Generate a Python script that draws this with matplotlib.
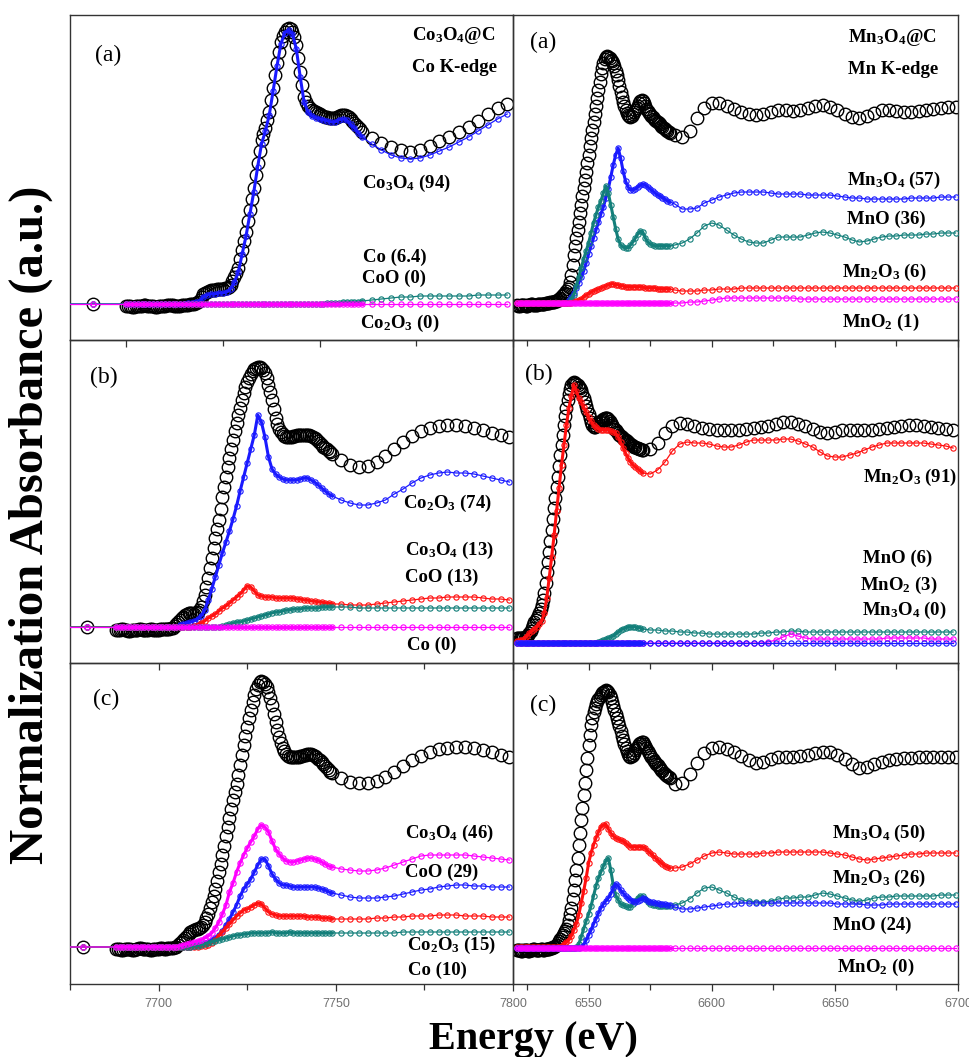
import sys
import numpy as np
import matplotlib
matplotlib.use("Agg")
import matplotlib.pyplot as plt
from matplotlib.ticker import MultipleLocator, NullLocator

plt.rcParams["font.family"] = ["Liberation Serif", "DejaVu Serif"]
plt.rcParams["mathtext.fontset"] = "custom"
plt.rcParams["mathtext.rm"] = "Liberation Serif:bold"
plt.rcParams["mathtext.it"] = "Liberation Serif:bold"
plt.rcParams["mathtext.bf"] = "Liberation Serif:bold"

# ---------------- energy grids (eV) ----------------
# fitted components
E_co_a = np.concatenate([[7670.0, 7691.4], np.arange(7700, 7762, 1.0), np.arange(7763.5, 7800, 2.5)])
E_co_b = np.concatenate([[7660.0, 7679.8], np.arange(7688, 7750, 1.0), np.arange(7751.5, 7800, 2.5)])
E_co_c = np.concatenate([[7660.0, 7678.7], np.arange(7688, 7750, 1.0), np.arange(7751.5, 7800, 2.5)])
E_mn_a = np.concatenate([np.arange(6521, 6584, 1.0), np.arange(6585, 6700, 3.0)])
E_mn_b = np.concatenate([np.arange(6521, 6573, 1.0), np.arange(6575, 6700, 3.0)])
E_mn_c = np.concatenate([np.arange(6521, 6584, 1.0), np.arange(6585, 6700, 3.0)])
# measured spectra (finer XANES step)
Ex_co_a = np.concatenate([[7670.0, 7691.4], np.arange(7700, 7761.25, 0.5), np.arange(7763.5, 7800, 2.5)])
Ex_co_b = np.concatenate([[7660.0, 7679.8], np.arange(7688, 7749.25, 0.5), np.arange(7751.5, 7800, 2.5)])
Ex_co_c = np.concatenate([[7660.0, 7678.7], np.arange(7688, 7749.25, 0.5), np.arange(7751.5, 7800, 2.5)])
Ex_mn_a = np.concatenate([np.arange(6521, 6583.25, 0.5), np.arange(6585, 6700, 3.0)])
Ex_mn_b = np.concatenate([np.arange(6521, 6572.25, 0.5), np.arange(6575, 6700, 3.0)])
Ex_mn_c = np.concatenate([np.arange(6521, 6583.25, 0.5), np.arange(6585, 6700, 3.0)])

# ---------------- Co K-edge, (a) Co3O4@C ----------------
co_a_exp = [0.0, 0.0] + \
    [-0.02, -0.02, -0.02, -0.03, -0.03, -0.02, -0.02, -0.02, -0.02, -0.01, -0.01, -0.02, -0.02,
     -0.02, -0.02, -0.03, -0.03, -0.02, -0.02, -0.02, -0.02, -0.01, -0.01, -0.01, -0.01, -0.02,
     -0.02, -0.02, -0.02, -0.01, -0.01, -0.01, -0.01, 0.00, 0.00, 0.00, 0.01, 0.02] + \
    [0.04, 0.07, 0.10, 0.11, 0.12, 0.13, 0.14, 0.14, 0.14, 0.15, 0.15, 0.15, 0.15, 0.16, 0.16, 0.17,
     0.19, 0.23, 0.27, 0.31, 0.36, 0.45, 0.54, 0.63, 0.72, 0.83, 0.94, 1.05, 1.16, 1.29, 1.41, 1.53,
     1.64, 1.70, 1.76, 1.84, 1.92, 2.04, 2.16, 2.29, 2.41, 2.52, 2.62, 2.68, 2.72, 2.75, 2.76, 2.75,
     2.72, 2.67, 2.59, 2.46, 2.32, 2.19, 2.07, 2.02, 1.98, 1.96, 1.94, 1.93, 1.92, 1.91, 1.90, 1.89,
     1.88, 1.87, 1.87, 1.86, 1.86, 1.86, 1.86, 1.87, 1.88, 1.89, 1.89, 1.89, 1.88, 1.87, 1.85, 1.83,
     1.81, 1.79, 1.77, 1.75, 1.72] + \
    [1.66, 1.61, 1.57, 1.54, 1.52, 1.54, 1.58, 1.63, 1.67, 1.72, 1.77, 1.83, 1.90, 1.96, 2.00]
co_a_Co3O4 = [0.0, 0.0] + [0.00] * 16 + [0.01, 0.01, 0.02] + \
    [0.03, 0.07, 0.09, 0.10, 0.10, 0.11, 0.11, 0.12, 0.15, 0.22, 0.32, 0.50, 0.68, 0.90, 1.12,
     1.37, 1.60, 1.73, 1.89, 2.13, 2.38, 2.60, 2.71, 2.74, 2.70, 2.55, 2.27, 2.02, 1.92, 1.88,
     1.86, 1.85, 1.84, 1.83, 1.82, 1.82, 1.84, 1.85, 1.84, 1.80, 1.76, 1.71, 1.67] + \
    [1.60, 1.54, 1.49, 1.46, 1.45, 1.46, 1.49, 1.53, 1.57, 1.62, 1.67, 1.73, 1.79, 1.85, 1.90]
co_a_Co = [0.0, 0.0] + [0.0] * 52 + [0.01, 0.01, 0.01, 0.01, 0.02, 0.02, 0.02, 0.02, 0.02, 0.03] + \
    [0.04, 0.05, 0.06, 0.07, 0.07, 0.08, 0.08, 0.08, 0.08, 0.08, 0.08, 0.09, 0.09, 0.09, 0.09]
co_a_Co2O3 = [0.0] * 79

# ---------------- Co K-edge, (b) ----------------
co_b_exp = [0.0, 0.0] + \
    [-0.03, -0.03, -0.03, -0.02, -0.02, -0.03, -0.03, -0.04, -0.04, -0.03, -0.03, -0.03, -0.03,
     -0.02, -0.02, -0.03, -0.03, -0.03, -0.03, -0.02, -0.02, -0.03, -0.03, -0.03, -0.03, -0.02,
     -0.02, -0.02, -0.02, -0.02, -0.02, -0.01] + \
    [-0.01, 0.01, 0.03, 0.05, 0.07, 0.09, 0.10, 0.12, 0.13, 0.14, 0.14, 0.14, 0.13, 0.14, 0.15, 0.17,
     0.20, 0.26, 0.32, 0.40, 0.49, 0.59, 0.69, 0.79, 0.89, 0.98, 1.07, 1.18, 1.30, 1.40, 1.50, 1.60,
     1.69, 1.78, 1.87, 1.96, 2.04, 2.12, 2.19, 2.27, 2.34, 2.40, 2.45, 2.49, 2.53, 2.56, 2.58, 2.59,
     2.60, 2.60, 2.59, 2.57, 2.54, 2.49, 2.42, 2.35, 2.27, 2.18, 2.09, 2.03, 1.98, 1.95, 1.93, 1.91,
     1.90, 1.90, 1.90, 1.90, 1.91, 1.91, 1.92, 1.92, 1.92, 1.92, 1.92, 1.92, 1.92, 1.92, 1.91, 1.90,
     1.89, 1.88, 1.86, 1.84, 1.82, 1.80, 1.79, 1.78, 1.76, 1.75, 1.73] + \
    [1.67, 1.62, 1.60, 1.61, 1.65, 1.71, 1.78, 1.85, 1.91, 1.96, 1.99, 2.01, 2.02, 2.02, 2.01,
     1.99, 1.97, 1.94, 1.92, 1.90]
co_b_Co2O3 = [0.0, 0.0] + [0.0] * 18 + \
    [0.02, 0.03, 0.04, 0.05, 0.06, 0.08, 0.11, 0.17, 0.27, 0.38, 0.50, 0.62, 0.74, 0.85, 0.96,
     1.08, 1.21, 1.36, 1.50, 1.64, 1.78, 1.92, 2.12, 2.05, 1.90, 1.70, 1.58, 1.53, 1.50, 1.48,
     1.47, 1.47, 1.47, 1.47, 1.48, 1.49, 1.49, 1.47, 1.45, 1.42, 1.39, 1.36, 1.33, 1.31] + \
    [1.27, 1.24, 1.22, 1.22, 1.24, 1.27, 1.33, 1.38, 1.44, 1.49, 1.52, 1.54, 1.55, 1.54, 1.54,
     1.53, 1.51, 1.49, 1.47, 1.45]
co_b_Co3O4 = [0.0, 0.0] + [0.0] * 22 + \
    [0.01, 0.02, 0.04, 0.06, 0.09, 0.11, 0.13, 0.16, 0.19, 0.21, 0.24, 0.27, 0.30, 0.33, 0.37,
     0.41, 0.40, 0.36, 0.32, 0.31, 0.30, 0.30, 0.30, 0.29, 0.29, 0.29, 0.29, 0.29, 0.29, 0.28,
     0.28, 0.27, 0.27, 0.26, 0.26, 0.25, 0.25, 0.24, 0.24, 0.23] + \
    [0.23, 0.22, 0.22, 0.22, 0.23, 0.24, 0.25, 0.26, 0.27, 0.28, 0.29, 0.29, 0.30, 0.30, 0.30,
     0.30, 0.29, 0.28, 0.28, 0.27]
co_b_CoO = [0.0, 0.0] + [0.0] * 29 + \
    [0.00, 0.01, 0.02, 0.03, 0.04, 0.05, 0.05, 0.06, 0.07, 0.08, 0.09, 0.10, 0.11, 0.12, 0.13,
     0.14, 0.15, 0.15, 0.16, 0.17, 0.17, 0.18, 0.18, 0.18, 0.19, 0.19, 0.19, 0.19, 0.19, 0.20,
     0.20, 0.20, 0.20] + \
    [0.20, 0.20, 0.19, 0.19, 0.19, 0.19, 0.19, 0.19, 0.19, 0.19, 0.19, 0.19, 0.19, 0.19, 0.19,
     0.19, 0.19, 0.19, 0.19, 0.19]
co_b_Co = [0.0] * 84

# ---------------- Co K-edge, (c) ----------------
co_c_exp = [0.0, 0.0] + \
    [-0.02, -0.02, -0.02, -0.03, -0.03, -0.02, -0.02, -0.02, -0.02, -0.03, -0.03, -0.02, -0.02,
     -0.01, -0.01, -0.02, -0.02, -0.02, -0.02, -0.03, -0.03, -0.02, -0.02, -0.02, -0.02, -0.01,
     -0.01, -0.02, -0.02, -0.01, -0.01, -0.01, -0.01, 0.00, 0.00, 0.02] + \
    [0.04, 0.05, 0.07, 0.09, 0.11, 0.13, 0.15, 0.16, 0.17, 0.18, 0.18, 0.19, 0.20, 0.22, 0.25, 0.29,
     0.33, 0.39, 0.45, 0.51, 0.58, 0.66, 0.75, 0.83, 0.92, 1.01, 1.11, 1.20, 1.29, 1.38, 1.47, 1.55,
     1.63, 1.72, 1.82, 1.92, 2.02, 2.11, 2.20, 2.29, 2.37, 2.45, 2.52, 2.58, 2.62, 2.65, 2.66, 2.65,
     2.63, 2.60, 2.55, 2.49, 2.42, 2.33, 2.25, 2.17, 2.10, 2.04, 1.99, 1.96, 1.93, 1.91, 1.90, 1.90,
     1.90, 1.90, 1.90, 1.90, 1.91, 1.91, 1.92, 1.92, 1.93, 1.93, 1.93, 1.92, 1.91, 1.90, 1.88, 1.87,
     1.85, 1.83, 1.81, 1.79, 1.77, 1.75, 1.74] + \
    [1.69, 1.65, 1.64, 1.64, 1.66, 1.70, 1.75, 1.81, 1.87, 1.91, 1.95, 1.98, 1.99, 2.00, 2.00,
     1.99, 1.97, 1.95, 1.92, 1.90]
co_c_Co3O4 = [0.0, 0.0] + [0.0] * 18 + \
    [0.01, 0.02, 0.03, 0.04, 0.05, 0.06, 0.07, 0.09, 0.11, 0.14, 0.19, 0.25, 0.33, 0.42, 0.55,
     0.64, 0.75, 0.84, 0.92, 0.99, 1.05, 1.11, 1.18, 1.22, 1.20, 1.15, 1.06, 0.98, 0.93, 0.89,
     0.86, 0.85, 0.85, 0.86, 0.87, 0.88, 0.89, 0.89, 0.88, 0.87, 0.85, 0.83, 0.81, 0.80] + \
    [0.78, 0.77, 0.76, 0.76, 0.77, 0.79, 0.82, 0.85, 0.88, 0.91, 0.92, 0.92, 0.92, 0.92, 0.92,
     0.91, 0.90, 0.89, 0.88, 0.87]
co_c_CoO = [0.0, 0.0] + [0.0] * 22 + \
    [0.01, 0.02, 0.03, 0.04, 0.05, 0.07, 0.09, 0.12, 0.16, 0.22, 0.28, 0.35, 0.42, 0.51, 0.58,
     0.63, 0.68, 0.75, 0.82, 0.88, 0.88, 0.81, 0.73, 0.68, 0.64, 0.62, 0.62, 0.61, 0.60, 0.60,
     0.60, 0.60, 0.60, 0.60, 0.60, 0.59, 0.58, 0.57, 0.55, 0.54] + \
    [0.52, 0.50, 0.49, 0.49, 0.49, 0.50, 0.51, 0.53, 0.55, 0.57, 0.58, 0.60, 0.61, 0.62, 0.62,
     0.61, 0.61, 0.60, 0.60, 0.60]
co_c_Co2O3 = [0.0, 0.0] + [0.0] * 24 + \
    [0.01, 0.01, 0.02, 0.04, 0.07, 0.11, 0.15, 0.19, 0.23, 0.27, 0.31, 0.34, 0.37, 0.38, 0.40,
     0.42, 0.44, 0.43, 0.39, 0.35, 0.33, 0.32, 0.31, 0.31, 0.31, 0.31, 0.31, 0.31, 0.31, 0.31,
     0.30, 0.30, 0.30, 0.30, 0.29, 0.29, 0.29, 0.28] + \
    [0.28, 0.28, 0.28, 0.28, 0.29, 0.29, 0.30, 0.30, 0.31, 0.31, 0.31, 0.32, 0.32, 0.32, 0.31,
     0.31, 0.31, 0.30, 0.30, 0.30]
co_c_Co = [0.0, 0.0] + [0.0] * 22 + \
    [0.01, 0.01, 0.02, 0.03, 0.04, 0.05, 0.06, 0.07, 0.08, 0.09, 0.10, 0.11, 0.12, 0.12, 0.13,
     0.13, 0.14, 0.14, 0.14, 0.14, 0.14, 0.14, 0.15, 0.14, 0.14, 0.14, 0.14, 0.15, 0.14, 0.14,
     0.14, 0.14, 0.14, 0.14, 0.14, 0.14, 0.14, 0.14, 0.14, 0.14] + \
    [0.14, 0.14, 0.14, 0.14, 0.14, 0.14, 0.14, 0.15, 0.15, 0.15, 0.15, 0.15, 0.15, 0.15, 0.15,
     0.15, 0.15, 0.15, 0.15, 0.15]

# ---------------- Mn K-edge, (a) Mn3O4@C ----------------
mn_a_exp = [-0.02, -0.03, -0.03, -0.02, -0.02, -0.02, -0.02, -0.03, -0.03, -0.02, -0.02, -0.01,
            -0.01, -0.02, -0.02, -0.02, -0.02, -0.01, -0.01, -0.01, -0.01, -0.01, -0.01, 0.00,
            0.00, 0.00, 0.00, 0.01, 0.01, 0.01, 0.01, 0.02, 0.02, 0.03] + \
    [0.04, 0.05, 0.07, 0.08, 0.09, 0.10, 0.12, 0.14, 0.16, 0.21, 0.28, 0.38, 0.48, 0.57, 0.65, 0.73,
     0.81, 0.90, 0.98, 1.07, 1.15, 1.23, 1.31, 1.40, 1.48, 1.57, 1.65, 1.73, 1.81, 1.89, 1.97, 2.05,
     2.13, 2.21, 2.29, 2.35, 2.40, 2.44, 2.46, 2.47, 2.46, 2.45, 2.43, 2.42, 2.40, 2.37, 2.32, 2.28,
     2.23, 2.17, 2.11, 2.06, 2.01, 1.97, 1.93, 1.90, 1.88, 1.87, 1.86, 1.87, 1.89, 1.91, 1.93, 1.95,
     1.97, 2.00, 2.02, 2.03, 2.02, 2.00, 1.97, 1.94, 1.92, 1.90, 1.89, 1.87, 1.86, 1.84, 1.83, 1.82,
     1.81, 1.80, 1.79, 1.77, 1.76, 1.75, 1.74, 1.73, 1.72, 1.71, 1.70] + \
    [1.68, 1.66, 1.72, 1.85, 1.95, 2.00, 2.00, 1.97, 1.94, 1.91, 1.89, 1.88, 1.89, 1.91, 1.93,
     1.93, 1.92, 1.93, 1.95, 1.97, 1.98, 1.96, 1.93, 1.89, 1.86, 1.85, 1.87, 1.90, 1.93, 1.93,
     1.92, 1.91, 1.91, 1.92, 1.93, 1.94, 1.95, 1.96, 1.96]
mn_a_Mn3O4 = [0.0] * 21 + \
    [0.03, 0.06, 0.10, 0.15, 0.20, 0.26, 0.32, 0.40, 0.49, 0.57, 0.65, 0.73, 0.81, 0.89, 0.96,
     1.05, 1.14, 1.26, 1.38, 1.48, 1.55, 1.45, 1.32, 1.22, 1.16, 1.13, 1.13, 1.14, 1.16, 1.18,
     1.19, 1.18, 1.16, 1.14, 1.12, 1.10, 1.08, 1.07, 1.05, 1.04, 1.02, 1.01] + \
    [0.99, 0.94, 0.94, 0.95, 1.00, 1.03, 1.06, 1.08, 1.10, 1.11, 1.11, 1.11, 1.11, 1.10, 1.09,
     1.09, 1.09, 1.09, 1.08, 1.08, 1.08, 1.08, 1.07, 1.06, 1.05, 1.05, 1.04, 1.04, 1.04, 1.04,
     1.04, 1.04, 1.05, 1.05, 1.05, 1.05, 1.06, 1.06, 1.06]
mn_a_MnO = [0.0] * 22 + \
    [0.04, 0.08, 0.17, 0.26, 0.35, 0.44, 0.52, 0.60, 0.70, 0.80, 0.88, 0.96, 1.02, 1.10, 1.17,
     1.10, 0.98, 0.86, 0.74, 0.64, 0.58, 0.56, 0.55, 0.55, 0.58, 0.61, 0.65, 0.69, 0.72, 0.71,
     0.65, 0.61, 0.59, 0.58, 0.57, 0.57, 0.57, 0.57, 0.57, 0.57, 0.57] + \
    [0.58, 0.60, 0.64, 0.70, 0.77, 0.80, 0.78, 0.73, 0.68, 0.64, 0.61, 0.60, 0.60, 0.63, 0.66,
     0.66, 0.66, 0.66, 0.68, 0.70, 0.71, 0.70, 0.68, 0.66, 0.63, 0.61, 0.62, 0.64, 0.66, 0.67,
     0.67, 0.68, 0.68, 0.68, 0.69, 0.69, 0.70, 0.70, 0.70]
mn_a_Mn2O3 = [0.0] * 23 + \
    [0.01, 0.02, 0.03, 0.04, 0.06, 0.08, 0.09, 0.11, 0.12, 0.13, 0.14, 0.15, 0.16, 0.17, 0.18,
     0.19, 0.19, 0.18, 0.18, 0.17, 0.17, 0.16, 0.16, 0.16, 0.16, 0.16, 0.16, 0.16, 0.16, 0.15,
     0.15, 0.15, 0.15, 0.15, 0.14, 0.14, 0.14, 0.14, 0.14, 0.14] + \
    [0.13, 0.12, 0.12, 0.12, 0.13, 0.13, 0.14, 0.14, 0.14] + [0.15] * 30
mn_a_MnO2 = [0.0] * 63 + \
    [0.00, 0.00, 0.01, 0.01, 0.02, 0.03, 0.04, 0.05, 0.05, 0.05, 0.05, 0.05, 0.05, 0.05, 0.05,
     0.05, 0.05] + [0.04] * 22

# ---------------- Mn K-edge, (b) ----------------
mn_b_exp = [0.05, 0.05, 0.05, 0.05, 0.05, 0.05, 0.05, 0.06, 0.07, 0.08, 0.10, 0.12, 0.15, 0.18,
            0.21, 0.23, 0.25, 0.27, 0.30, 0.34, 0.38, 0.43, 0.50, 0.60, 0.71, 0.81, 0.91, 1.02,
            1.13, 1.24, 1.35, 1.45, 1.56, 1.66, 1.77, 1.88, 1.98, 2.08, 2.18, 2.27, 2.35, 2.43,
            2.49, 2.54, 2.58, 2.60, 2.61, 2.60, 2.59, 2.58, 2.56, 2.55, 2.53, 2.49, 2.45, 2.41,
            2.37, 2.33, 2.29, 2.25, 2.21, 2.18, 2.16, 2.16, 2.17, 2.19, 2.20, 2.21, 2.22, 2.23,
            2.24, 2.25, 2.25, 2.25, 2.24, 2.22, 2.20, 2.18, 2.16, 2.14, 2.13, 2.11, 2.10, 2.08,
            2.07, 2.06, 2.05, 2.04, 2.03, 2.02, 2.01, 2.00, 1.99, 1.98, 1.97, 1.96, 1.96, 1.95,
            1.95, 1.94, 1.94, 1.93, 1.93] + \
    [1.94, 2.00, 2.10, 2.17, 2.20, 2.19, 2.17, 2.15, 2.14, 2.13, 2.13, 2.13, 2.13, 2.14, 2.15,
     2.16, 2.17, 2.19, 2.21, 2.21, 2.19, 2.17, 2.14, 2.11, 2.10, 2.11, 2.13, 2.13, 2.13, 2.13,
     2.13, 2.14, 2.15, 2.16, 2.17, 2.18, 2.18, 2.17, 2.16, 2.15, 2.14, 2.13]
mn_b_Mn2O3 = [0.02, 0.03, 0.03, 0.05, 0.07, 0.10, 0.12, 0.14, 0.16, 0.19, 0.22, 0.30, 0.45, 0.65,
              0.86, 1.08, 1.32, 1.55, 1.78, 1.98, 2.18, 2.35, 2.47, 2.58, 2.52, 2.45, 2.41, 2.36,
              2.31, 2.26, 2.22, 2.18, 2.16, 2.14, 2.13, 2.13, 2.13, 2.13, 2.12, 2.11, 2.10, 2.06,
              2.01, 1.95, 1.90, 1.85, 1.81, 1.78, 1.76, 1.74, 1.72, 1.70] + \
    [1.69, 1.73, 1.81, 1.92, 1.99, 2.01, 2.00, 2.00, 1.99, 1.97, 1.96, 1.96, 1.98, 2.01, 2.03,
     2.03, 2.03, 2.03, 2.04, 2.04, 2.02, 1.99, 1.96, 1.91, 1.87, 1.86, 1.86, 1.88, 1.90, 1.93,
     1.96, 1.98, 2.00, 2.00, 2.00, 2.00, 2.00, 2.00, 1.99, 1.98, 1.97, 1.95]
mn_b_MnO = [0.0] * 33 + \
    [0.01, 0.02, 0.03, 0.04, 0.05, 0.06, 0.07, 0.09, 0.11, 0.13, 0.14, 0.15, 0.16, 0.16, 0.16,
     0.16, 0.15, 0.15, 0.14] + \
    [0.13, 0.13, 0.12, 0.12, 0.11, 0.11, 0.10, 0.10, 0.09, 0.09, 0.09, 0.09, 0.09, 0.09, 0.09,
     0.10, 0.10, 0.11, 0.11, 0.12, 0.12] + [0.11] * 21
mn_b_MnO2 = [0.0] * 52 + [0.0] * 16 + [0.01, 0.03, 0.06, 0.09, 0.07, 0.05] + \
    [0.04] * 10 + [0.05] * 6 + [0.04] * 4
mn_b_Mn3O4 = [0.0] * 94

# ---------------- Mn K-edge, (c) ----------------
mn_c_exp = [-0.02, -0.02, -0.02, -0.03, -0.03, -0.02, -0.02, -0.02, -0.02, -0.03, -0.03, -0.02,
            -0.02, -0.01, -0.01, -0.02, -0.02, -0.02, -0.02, -0.01, -0.01, -0.02, -0.02, -0.01,
            -0.01, -0.01, -0.01, 0.00, 0.00, 0.01, 0.01, 0.02] + \
    [0.03, 0.05, 0.07, 0.09, 0.11, 0.13, 0.15, 0.17, 0.19, 0.23, 0.28, 0.34, 0.40, 0.49, 0.58, 0.68,
     0.78, 0.90, 1.03, 1.15, 1.28, 1.40, 1.53, 1.65, 1.78, 1.90, 2.03, 2.13, 2.23, 2.30, 2.36, 2.40,
     2.44, 2.47, 2.49, 2.51, 2.53, 2.55, 2.56, 2.57, 2.58, 2.57, 2.56, 2.53, 2.50, 2.46, 2.42, 2.38,
     2.34, 2.30, 2.26, 2.22, 2.17, 2.12, 2.08, 2.04, 2.00, 1.97, 1.94, 1.92, 1.91, 1.92, 1.93, 1.95,
     1.98, 2.00, 2.02, 2.04, 2.05, 2.06, 2.06, 2.04, 2.02, 2.00, 1.97, 1.95, 1.93, 1.91, 1.89, 1.87,
     1.86, 1.84, 1.83, 1.81, 1.80, 1.78, 1.77, 1.75, 1.74, 1.73, 1.72, 1.71, 1.70] + \
    [1.64, 1.65, 1.74, 1.85, 1.95, 2.00, 2.01, 1.99, 1.96, 1.92, 1.88, 1.85, 1.86, 1.89, 1.91,
     1.91, 1.91, 1.92, 1.93, 1.95, 1.96, 1.96, 1.93, 1.89, 1.84, 1.80, 1.81, 1.84, 1.86, 1.88,
     1.89, 1.90, 1.90, 1.91, 1.91, 1.91, 1.91, 1.91, 1.91]
mn_c_Mn3O4 = [0.01] * 18 + \
    [0.02, 0.04, 0.06, 0.08, 0.12, 0.18, 0.24, 0.33, 0.45, 0.57, 0.70, 0.85, 0.95, 1.03, 1.10,
     1.16, 1.21, 1.23, 1.24, 1.19, 1.15, 1.12, 1.10, 1.09, 1.08, 1.07, 1.05, 1.03, 1.01, 1.01,
     1.01, 1.01, 1.01, 1.01, 1.00, 0.97, 0.95, 0.93, 0.90, 0.88, 0.86, 0.84, 0.82, 0.81, 0.80] + \
    [0.80, 0.81, 0.84, 0.88, 0.92, 0.95, 0.96, 0.95, 0.94, 0.94, 0.94, 0.94, 0.95, 0.95, 0.96,
     0.96, 0.96, 0.96, 0.96, 0.96, 0.96, 0.95, 0.94, 0.93, 0.91, 0.89, 0.88, 0.89, 0.90, 0.91,
     0.92, 0.93, 0.94, 0.94, 0.95, 0.95, 0.95, 0.95, 0.95]
mn_c_Mn2O3 = [0.0] * 24 + \
    [0.01, 0.04, 0.11, 0.19, 0.27, 0.34, 0.42, 0.52, 0.62, 0.70, 0.76, 0.82, 0.87, 0.90, 0.78,
     0.63, 0.53, 0.48, 0.44, 0.43, 0.42, 0.41, 0.41, 0.44, 0.47, 0.50, 0.52, 0.52, 0.49, 0.46,
     0.44, 0.43, 0.43, 0.42, 0.42, 0.42, 0.42, 0.42, 0.42] + \
    [0.43, 0.45, 0.49, 0.55, 0.60, 0.61, 0.58, 0.55, 0.51, 0.48, 0.47, 0.46, 0.46, 0.47, 0.49,
     0.50, 0.50, 0.51, 0.51, 0.53, 0.55, 0.54, 0.52, 0.50, 0.48, 0.47, 0.48, 0.50, 0.51, 0.51,
     0.52, 0.52, 0.52, 0.52, 0.52, 0.52, 0.53, 0.53, 0.53]
mn_c_MnO = [0.0] * 26 + \
    [0.01, 0.03, 0.08, 0.13, 0.18, 0.24, 0.29, 0.35, 0.40, 0.44, 0.47, 0.50, 0.54, 0.60, 0.64,
     0.62, 0.58, 0.55, 0.52, 0.50, 0.48, 0.47, 0.46, 0.47, 0.48, 0.50, 0.49, 0.47, 0.46, 0.46,
     0.45, 0.45, 0.44, 0.44, 0.44, 0.43, 0.43] + \
    [0.41, 0.39, 0.39, 0.40, 0.41, 0.42, 0.43, 0.44, 0.44, 0.45, 0.45, 0.45, 0.45, 0.45, 0.45,
     0.45, 0.45, 0.45, 0.45, 0.45, 0.45, 0.45, 0.44, 0.44, 0.44, 0.44, 0.43, 0.43, 0.43, 0.44,
     0.44, 0.44, 0.44, 0.44, 0.44, 0.44, 0.44, 0.44, 0.44]
mn_c_MnO2 = [0.0] * 102

# ---------------- labels ----------------
panel_tags = ["(a)", "(b)", "(c)"]
co_title = [r"Co$_3$O$_4$@C", "Co K-edge"]
mn_title = [r"Mn$_3$O$_4$@C", "Mn K-edge"]
co_labels = [
    [r"Co$_3$O$_4$ (94)", "Co (6.4)", "CoO (0)", r"Co$_2$O$_3$ (0)"],
    [r"Co$_2$O$_3$ (74)", r"Co$_3$O$_4$ (13)", "CoO (13)", "Co (0)"],
    [r"Co$_3$O$_4$ (46)", "CoO (29)", r"Co$_2$O$_3$ (15)", "Co (10)"],
]
mn_labels = [
    [r"Mn$_3$O$_4$ (57)", "MnO (36)", r"Mn$_2$O$_3$ (6)", r"MnO$_2$ (1)"],
    [r"Mn$_2$O$_3$ (91)", "MnO (6)", r"MnO$_2$ (3)", r"Mn$_3$O$_4$ (0)"],
    [r"Mn$_3$O$_4$ (50)", r"Mn$_2$O$_3$ (26)", "MnO (24)", r"MnO$_2$ (0)"],
]
xlabel = "Energy (eV)"
ylabel = "Normalization Absorbance (a.u.)"

BLUE, TEAL, RED, PINK = "#1a1aff", "#137f7a", "#ff1010", "#ff00ff"

# panel specs: (component grid, index range of the fine XANES part, measured grid,
#               measured spectrum, [(component, colour), ...])
panels = {
    (0, 0): (E_co_a, (2, 64), Ex_co_a, co_a_exp,
             [(co_a_Co3O4, BLUE), (co_a_Co, TEAL), (co_a_Co2O3, PINK)]),
    (1, 0): (E_co_b, (2, 64), Ex_co_b, co_b_exp,
             [(co_b_Co2O3, BLUE), (co_b_Co3O4, RED), (co_b_CoO, TEAL), (co_b_Co, PINK)]),
    (2, 0): (E_co_c, (2, 64), Ex_co_c, co_c_exp,
             [(co_c_CoO, BLUE), (co_c_Co2O3, RED), (co_c_Co, TEAL), (co_c_Co3O4, PINK)]),
    (0, 1): (E_mn_a, (0, 63), Ex_mn_a, mn_a_exp,
             [(mn_a_Mn3O4, BLUE), (mn_a_MnO, TEAL), (mn_a_Mn2O3, RED), (mn_a_MnO2, PINK)]),
    (1, 1): (E_mn_b, (0, 52), Ex_mn_b, mn_b_exp,
             [(mn_b_Mn2O3, RED), (mn_b_MnO, TEAL), (mn_b_MnO2, PINK), (mn_b_Mn3O4, BLUE)]),
    (2, 1): (E_mn_c, (0, 63), Ex_mn_c, mn_c_exp,
             [(mn_c_Mn3O4, RED), (mn_c_Mn2O3, TEAL), (mn_c_MnO, BLUE), (mn_c_MnO2, PINK)]),
}

# ---------------- layout (pixels of a 969x1057 canvas) ----------------
W, H = 969, 1057
row_px = [(15, 340), (340, 663), (663, 984)]
col_px = [(70, 513), (513, 958)]
xlims = {(0, 0): (7685.5, 7800), (1, 0): (7675, 7800), (2, 0): (7675, 7800),
         (0, 1): (6519.3, 6700), (1, 1): (6519.3, 6700), (2, 1): (6519.3, 6700)}
ylims = {(0, 0): (-0.36, 2.89), (1, 0): (-0.36, 2.87), (2, 0): (-0.37, 2.84),
         (0, 1): (-0.37, 2.88), (1, 1): (-0.20, 3.03), (2, 1): (-0.36, 2.85)}

tag_pos = {(0, 0): (0.056, 0.877), (1, 0): (0.045, 0.885), (2, 0): (0.052, 0.885),
           (0, 1): (0.038, 0.914), (1, 1): (0.027, 0.892), (2, 1): (0.038, 0.869)}
title_pos = {0: [(0.772, 0.938), (0.772, 0.837)], 1: [(0.753, 0.932), (0.753, 0.831)]}
lab_pos = {
    (0, 0): [(0.659, 0.483), (0.661, 0.255), (0.659, 0.191), (0.655, 0.052)],
    (1, 0): [(0.752, 0.495), (0.756, 0.350), (0.756, 0.266), (0.761, 0.056)],
    (2, 0): [(0.756, 0.470), (0.756, 0.349), (0.761, 0.121), (0.763, 0.044)],
    (0, 1): [(0.751, 0.492), (0.751, 0.372), (0.739, 0.209), (0.739, 0.055)],
    (1, 1): [(0.787, 0.576), (0.787, 0.325), (0.780, 0.241), (0.784, 0.164)],
    (2, 1): [(0.717, 0.470), (0.717, 0.330), (0.719, 0.184), (0.728, 0.053)],
}

fig = plt.figure(figsize=(W / 100, H / 100), dpi=100)


def checked(E, y):
    n = min(len(E), len(y))
    if len(E) != len(y):
        print("length mismatch", len(E), len(y), file=sys.stderr)
    return np.asarray(E[:n]), np.asarray(y[:n])


for col in range(2):
    for row in range(3):
        key = (row, col)
        y0, y1 = row_px[row]
        x0, x1 = col_px[col]
        ax = fig.add_axes([x0 / W, 1 - y1 / H, (x1 - x0) / W, (y1 - y0) / H])
        ax.set_facecolor("none")
        E, (i0, i1), Ex, exp, comps = panels[key]
        e, y = checked(Ex, exp)
        ax.plot(e, y, ls="none", marker="o", ms=9.0, mfc="none", mec="black", mew=1.0, zorder=2)
        for s, c in comps:
            e, y = checked(E, s)
            ax.plot(e, y, "-", color=c, lw=0.9, marker="o", ms=3.8, mfc="none", mec=c,
                    mew=0.8, zorder=3)
            ax.plot(e[i0:i1], y[i0:i1], "-", color=c, lw=2.2, zorder=3)
        ax.set_xlim(*xlims[key])
        ax.set_ylim(*ylims[key])
        ax.xaxis.set_major_locator(MultipleLocator(50))
        ax.xaxis.set_minor_locator(MultipleLocator(25))
        ax.yaxis.set_major_locator(NullLocator())
        ax.tick_params(axis="x", which="both", direction="out", colors="#333333", width=0.9,
                       labelbottom=(row == 2), labelsize=9, labelcolor="#707070", pad=5)
        ax.tick_params(axis="x", which="major", length=5)
        ax.tick_params(axis="x", which="minor", length=4)
        if row == 2:
            for lab in ax.get_xticklabels():
                lab.set_fontfamily("Liberation Sans")
        for sp in ax.spines.values():
            sp.set_color("#333333")
            sp.set_linewidth(1.0)
        tx, ty = tag_pos[key]
        ax.text(tx, ty, panel_tags[row], transform=ax.transAxes, fontsize=17,
                ha="left", va="center")
        if row == 0:
            titles = co_title if col == 0 else mn_title
            for (px, py), t in zip(title_pos[col], titles):
                ax.text(px, py, t, transform=ax.transAxes, fontsize=13.5, fontweight="bold",
                        ha="left", va="center")
        labels = (co_labels if col == 0 else mn_labels)[row]
        for (px, py), t in zip(lab_pos[key], labels):
            ax.text(px, py, t, transform=ax.transAxes, fontsize=13.5, fontweight="bold",
                    ha="left", va="center")

fig.text(533 / W, 1 - 1040 / H, xlabel, fontsize=29, fontweight="bold", ha="center", va="center")
fig.text(31 / W, 1 - 525 / H, ylabel, fontsize=35, fontweight="bold", rotation=90,
         ha="center", va="center")

fig.savefig("out.png", dpi=100)
